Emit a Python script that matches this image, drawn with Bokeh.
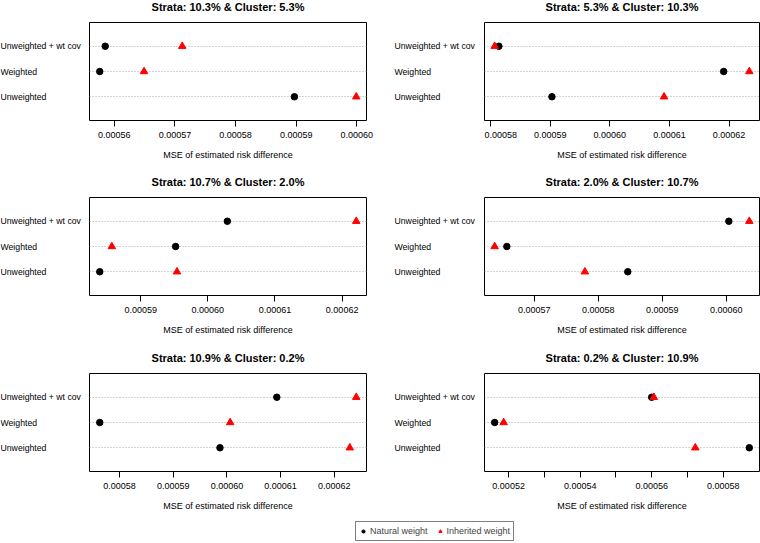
from bokeh.plotting import figure
from bokeh.layouts import column, row
from bokeh.models import FixedTicker, Range1d, Legend, LegendItem, PrintfTickFormatter
from bokeh.embed import file_html
from bokeh.resources import INLINE

FONT = "Liberation Sans"

categories = ["Unweighted", "Weighted", "Unweighted + wt cov"]  # bottom -> top

titles = [
    "Strata: 10.3% & Cluster: 5.3%",
    "Strata: 5.3% & Cluster: 10.3%",
    "Strata: 10.7% & Cluster: 2.0%",
    "Strata: 2.0% & Cluster: 10.7%",
    "Strata: 10.9% & Cluster: 0.2%",
    "Strata: 0.2% & Cluster: 10.9%",
]

# values ordered as categories: Unweighted, Weighted, Unweighted + wt cov
natural_1 = [0.0005897, 0.0005576, 0.0005585]
inherited_1 = [0.0005999, 0.0005649, 0.0005712]
natural_2 = [0.0005903, 0.0006191, 0.0005814]
inherited_2 = [0.0006091, 0.0006234, 0.0005807]
natural_3 = [0.0005839, 0.0005952, 0.0006029]
inherited_3 = [0.0005954, 0.0005857, 0.0006221]
natural_4 = [0.0005846, 0.0005657, 0.0006004]
inherited_4 = [0.0005779, 0.0005638, 0.0006036]
natural_5 = [0.0005987, 0.0005763, 0.0006093]
inherited_5 = [0.0006229, 0.0006006, 0.0006241]
natural_6 = [0.0005873, 0.0005161, 0.0005600]
inherited_6 = [0.0005722, 0.0005186, 0.0005606]

ticks_1 = [0.00056, 0.00057, 0.00058, 0.00059, 0.00060]
ticks_2 = [0.00058, 0.00059, 0.00060, 0.00061, 0.00062]
ticks_3 = [0.00059, 0.00060, 0.00061, 0.00062]
ticks_4 = [0.00057, 0.00058, 0.00059, 0.00060]
ticks_5 = [0.00058, 0.00059, 0.00060, 0.00061, 0.00062]
ticks_6 = [0.00052, 0.00054, 0.00056, 0.00058]
minor_ticks_6 = [0.00053, 0.00055, 0.00057]

legend_labels = ["Natural weight", "Inherited weight"]

naturals = [natural_1, natural_2, natural_3, natural_4, natural_5, natural_6]
inheriteds = [inherited_1, inherited_2, inherited_3, inherited_4, inherited_5, inherited_6]
tickss = [ticks_1, ticks_2, ticks_3, ticks_4, ticks_5, ticks_6]
minors = [[], [], [], [], [], minor_ticks_6]

ypos = [1, 2, 3]

ROW_BOTTOM = [55, 56, 48]
TITLE_H = 22
FRAME_H = 98

# column geometry: (label area width, label x offset, frame width, right border)
COLS = [(89, 0, 277, 14), (104, 14, 275, 1)]


def blank(p):
    p.axis.visible = False
    p.grid.visible = False
    p.outline_line_color = None


def make_title(i):
    lw, _, fw, br = COLS[i % 2]
    w = lw + fw + br
    p = figure(frame_width=w, frame_height=TITLE_H, min_border=0,
               x_range=Range1d(0, w), y_range=Range1d(0, TITLE_H),
               output_backend="svg", toolbar_location=None, tools="")
    blank(p)
    p.text(x=[lw + fw / 2], y=[TITLE_H - 6.3], text=[titles[i]],
           text_align="center", text_baseline="middle",
           text_font={"value": FONT}, text_font_size="11px",
           text_font_style="bold", text_color="black")
    return p


def make_labels(i, rowi):
    lw, tx, _, _ = COLS[i % 2]
    p = figure(frame_width=lw, frame_height=FRAME_H,
               min_border_left=0, min_border_right=0,
               min_border_top=0, min_border_bottom=ROW_BOTTOM[rowi],
               x_range=Range1d(0, lw), y_range=Range1d(0.06, 3.94),
               output_backend="svg", toolbar_location=None, tools="")
    blank(p)
    p.text(x=[tx] * 3, y=ypos, text=categories, text_align="left",
           text_baseline="middle", text_font={"value": FONT},
           text_font_size="8.7px", text_color="black")
    return p


def make_panel(i, rowi):
    _, _, fw, br = COLS[i % 2]
    nat = naturals[i]
    inh = inheriteds[i]
    allv = nat + inh
    lo, hi = min(allv), max(allv)
    pad = (hi - lo) * 0.04
    p = figure(frame_width=fw, frame_height=FRAME_H,
               min_border_left=0, min_border_right=br,
               min_border_top=0, min_border_bottom=ROW_BOTTOM[rowi],
               x_range=Range1d(lo - pad, hi + pad), y_range=Range1d(0.06, 3.94),
               output_backend="svg", toolbar_location=None, tools="")
    p.outline_line_color = "black"
    p.outline_line_alpha = 1.0
    p.outline_line_width = 1
    p.background_fill_color = "white"
    p.border_fill_color = "white"

    p.xgrid.visible = False
    p.yaxis.visible = False
    p.ygrid.ticker = FixedTicker(ticks=ypos)
    p.ygrid.grid_line_color = "#AAAAAA"
    p.ygrid.grid_line_dash = "1 2"
    p.ygrid.grid_line_width = 1

    ax = p.xaxis[0]
    ax.ticker = FixedTicker(ticks=tickss[i], minor_ticks=minors[i])
    ax.formatter = PrintfTickFormatter(format="%.5f")
    ax.axis_line_color = None
    ax.major_tick_out = 6
    ax.major_tick_in = 0
    ax.minor_tick_out = 6
    ax.minor_tick_in = 0
    ax.major_tick_line_color = "black"
    ax.minor_tick_line_color = "black"
    ax.major_label_standoff = 5
    ax.major_label_text_font = FONT
    ax.major_label_text_font_size = "9px"
    ax.major_label_text_color = "black"
    ax.axis_label = "MSE of estimated risk difference"
    ax.axis_label_text_font = FONT
    ax.axis_label_text_font_size = "9px"
    ax.axis_label_text_font_style = "normal"
    ax.axis_label_text_color = "black"
    ax.axis_label_standoff = 9

    p.scatter(x=nat, y=ypos, marker="circle", size=6.5, color="black")
    p.scatter(x=inh, y=ypos, marker="triangle", size=7.5, color="red")
    return p


def make_cell(i, rowi):
    return column(make_title(i), row(make_labels(i, rowi), make_panel(i, rowi)))


rows = []
for rowi in range(3):
    rows.append(row(make_cell(2 * rowi, rowi), make_cell(2 * rowi + 1, rowi)))

leg = figure(frame_width=760, frame_height=24, output_backend="svg",
             toolbar_location=None, tools="",
             x_range=Range1d(0, 1), y_range=Range1d(0, 1), min_border=0)
blank(leg)
r1 = leg.scatter(x=[-5], y=[-5], marker="circle", size=5, color="black")
r2 = leg.scatter(x=[-5], y=[-5], marker="triangle", size=6, color="red")
legend = Legend(items=[LegendItem(label=legend_labels[0], renderers=[r1]),
                       LegendItem(label=legend_labels[1], renderers=[r2])],
                orientation="horizontal", location=(355, 2),
                border_line_color="black", border_line_width=1,
                label_text_font=FONT, label_text_font_size="9px",
                glyph_width=8, glyph_height=12, label_height=12,
                label_standoff=3, spacing=8, padding=3, margin=0,
                background_fill_alpha=1.0)
leg.add_layout(legend)

layout = column(*rows, leg)

open("out.html", "w").write(file_html(layout, INLINE))
